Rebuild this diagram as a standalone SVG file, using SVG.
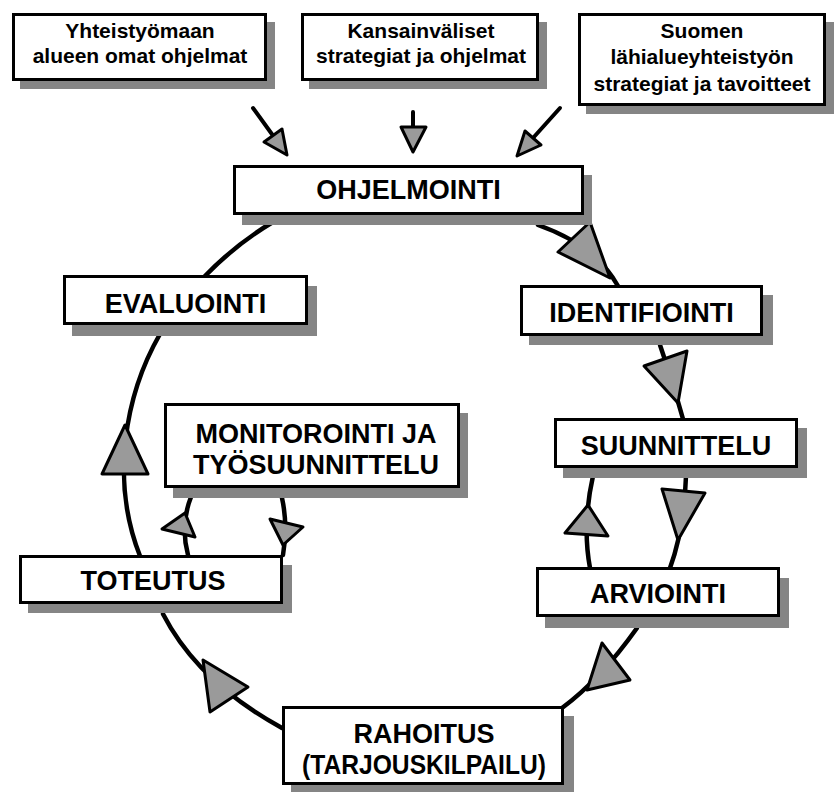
<svg xmlns="http://www.w3.org/2000/svg" width="836" height="792" viewBox="0 0 836 792">
<defs>
<style>
.box{fill:#fff;stroke:#000;stroke-width:3}
.sh{fill:#858585}
.t{font-family:"Liberation Sans",Arial,sans-serif;font-weight:bold;fill:#000;text-anchor:middle}
.s{font-size:21px}
.m{font-size:27px}
.ln{fill:none;stroke:#000;stroke-width:4.5;stroke-linecap:round}
.tln{fill:none;stroke:#000;stroke-width:4;stroke-linecap:round}
.tri{fill:#9a9a9a;stroke:#000;stroke-width:3;stroke-linejoin:round}
</style>
</defs>
<rect width="836" height="792" fill="#fff"/>

<g id="connectors">
  <path class="tln" d="M253,108 L274,137"/>
  <polygon class="tri" points="264,142 282,129 287,155"/>
  <path class="tln" d="M413,112 L413,128"/>
  <polygon class="tri" points="401,127 426,127 413,152"/>
  <path class="tln" d="M560,108 L533,138"/>
  <polygon class="tri" points="525,131 541,145 517,156"/>

  <path class="ln" d="M273,222 Q236,244 205,276"/>
  <path class="ln" d="M160,334 C125,395 110,480 140,556"/>
  <polygon class="tri" points="125,425 102,474 148,474"/>
  <path class="ln" d="M163,614 Q198,682 282,728"/>
  <polygon class="tri" points="203,660 248,687 210,712"/>
  <path class="ln" d="M637,628 Q600,680 562,708"/>
  <polygon class="tri" points="602,643 630,680 587,690"/>
  <path class="ln" d="M538,225 Q595,245 618,286"/>
  <polygon class="tri" points="558,252 590,222 610,278"/>
  <path class="ln" d="M660,345 Q672,380 683,419"/>
  <polygon class="tri" points="644,366 687,351 678,403"/>
  <path class="ln" d="M686,476 Q684,530 670,568"/>
  <polygon class="tri" points="662,489 705,493 678,540"/>
  <path class="ln" d="M590,568 Q582,525 593,476"/>
  <polygon class="tri" points="588,505 565,533 608,536"/>
  <path class="ln" d="M188,555 Q180,525 191,497"/>
  <polygon class="tri" points="185,513 162,529 195,537"/>
  <path class="ln" d="M282,498 Q288,525 283,555"/>
  <polygon class="tri" points="270,519 303,527 283,545"/>
</g>

<g id="yhteistyomaan">
  <rect class="sh" x="20" y="22" width="255" height="67"/>
  <rect class="box" x="13.5" y="14.5" width="252" height="65"/>
  <text class="t s" x="140" y="38">Yhteistyömaan</text>
  <text class="t s" x="140" y="63">alueen omat ohjelmat</text>
</g>
<g id="kansainvaliset">
  <rect class="sh" x="309" y="22" width="238" height="67"/>
  <rect class="box" x="302.5" y="14.5" width="235" height="65"/>
  <text class="t s" x="421" y="38">Kansainväliset</text>
  <text class="t s" x="421" y="63">strategiat ja ohjelmat</text>
</g>
<g id="suomen">
  <rect class="sh" x="586" y="22" width="248" height="92"/>
  <rect class="box" x="579.5" y="14.5" width="245" height="90"/>
  <text class="t s" x="702" y="38">Suomen</text>
  <text class="t s" x="702" y="64">lähialueyhteistyön</text>
  <text class="t s" x="702" y="91">strategiat ja tavoitteet</text>
</g>
<g id="ohjelmointi">
  <rect class="sh" x="242" y="175" width="350" height="50"/>
  <rect class="box" x="234.5" y="166.5" width="348" height="47"/>
  <text class="t m" x="408.5" y="199">OHJELMOINTI</text>
</g>
<g id="evaluointi">
  <rect class="sh" x="72" y="286" width="245" height="50"/>
  <rect class="box" x="64.5" y="276.5" width="242" height="47"/>
  <text class="t m" x="185.5" y="313">EVALUOINTI</text>
</g>
<g id="identifiointi">
  <rect class="sh" x="529" y="295" width="244" height="50"/>
  <rect class="box" x="521.5" y="286.5" width="240" height="48"/>
  <text class="t m" x="641.5" y="322">IDENTIFIOINTI</text>
</g>
<g id="monitorointi">
  <rect class="sh" x="173" y="413" width="295" height="85"/>
  <rect class="box" x="165.5" y="404.5" width="293" height="82"/>
  <text class="t m" x="316" y="443">MONITOROINTI JA</text>
  <text class="t m" x="316" y="474">TYÖSUUNNITTELU</text>
</g>
<g id="suunnittelu">
  <rect class="sh" x="563" y="428" width="244" height="50"/>
  <rect class="box" x="555.5" y="419.5" width="241" height="47"/>
  <text class="t m" x="676" y="455">SUUNNITTELU</text>
</g>
<g id="toteutus">
  <rect class="sh" x="28" y="565" width="264" height="48"/>
  <rect class="box" x="20.5" y="556.5" width="261" height="46"/>
  <text class="t m" x="153" y="590">TOTEUTUS</text>
</g>
<g id="arviointi">
  <rect class="sh" x="545" y="578" width="244" height="50"/>
  <rect class="box" x="537.5" y="568.5" width="241" height="47"/>
  <text class="t m" x="658" y="603">ARVIOINTI</text>
</g>
<g id="rahoitus">
  <rect class="sh" x="291" y="716" width="283" height="76"/>
  <rect class="box" x="283.5" y="707.5" width="279" height="76"/>
  <text class="t m" x="424" y="743">RAHOITUS</text>
  <text class="t m" x="424" y="774" textLength="244" lengthAdjust="spacingAndGlyphs">(TARJOUSKILPAILU)</text>
</g>
</svg>
